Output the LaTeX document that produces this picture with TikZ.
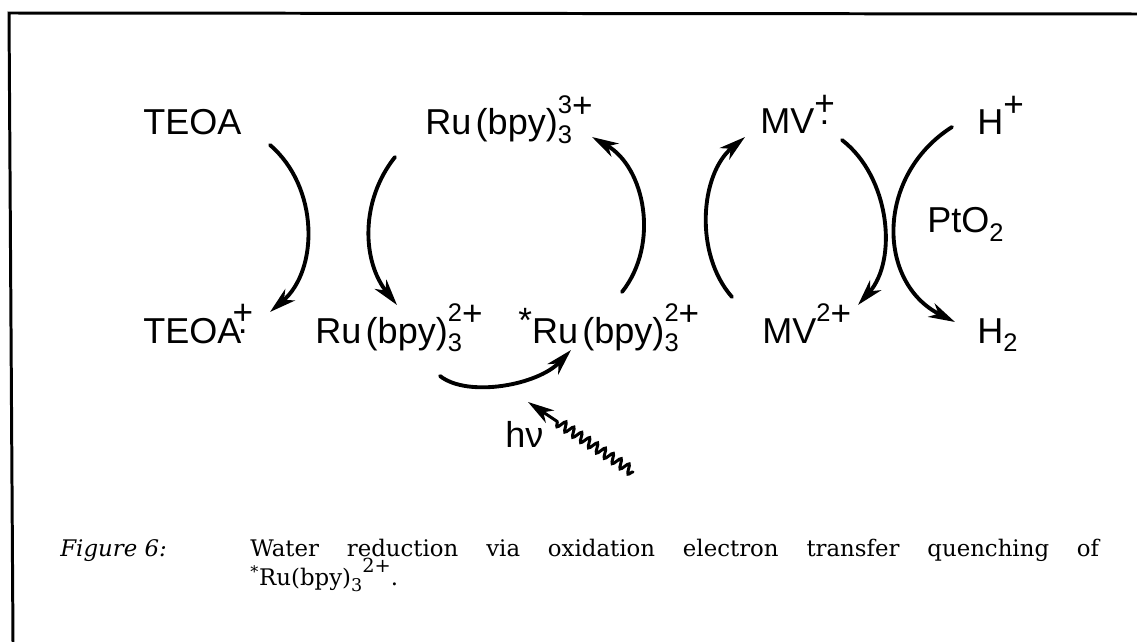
\documentclass[tikz,border=0pt]{standalone}
\usepackage{fontspec}
\setmainfont{DejaVu Serif}
\newfontfamily\etiq{Liberation Sans}
\usetikzlibrary{arrows.meta,decorations.pathmorphing}
\newcommand{\fsup}{\fontsize{14.5}{14.5}\selectfont}
\newcommand{\fmas}{\fontsize{20}{20}\selectfont}
\newcommand{\carga}[2]{\makebox[0pt][l]{\raisebox{-5pt}{\fsup #1}}\raisebox{12pt}{\fsup #2}\raisebox{10.1pt}{\fmas +}}
\newcommand{\radcat}{\makebox[0pt][l]{\hspace{3pt}\raisebox{5.5pt}{\fmas .}}\raisebox{10.5pt}{\fmas +}}
\newcommand{\arriba}[1]{\raisebox{12pt}{\fsup #1}\raisebox{10.1pt}{\fmas +}}
\newcommand{\masarriba}{\raisebox{10.5pt}{\fmas +}}
\newcommand{\abajo}[1]{\raisebox{-5pt}{\fsup #1}}
\newcommand{\estrella}{\raisebox{6pt}{\fmas *}}
\begin{document}
\begin{tikzpicture}[x=0.02cm,y=-0.02cm,line cap=round,
  lbl/.style={font=\etiq\fontsize{20.5}{24}\selectfont,inner sep=0pt,anchor=base west},
  leyenda/.style={font=\fontsize{13}{16}\selectfont,inner sep=0pt,anchor=base west},
  arr/.style={line width=2.2pt,-{Stealth[length=15pt,width=8.5pt,inset=4.5pt]}}]
  \useasboundingbox (0,0) rectangle (1137,642);
  % marco: solo los bordes superior e izquierdo
  \draw[line width=1.7pt] (13,642) -- (9,13) -- (1137,14);
  \node[lbl] (teoa) at (143,135) {TEOA};
  \node[lbl] (ruiii) at (425,135) {Ru\kern2.5pt(bpy)\carga{3}{3}};
  \node[lbl] (mvp) at (760,134) {MV\radcat};
  \node[lbl] (hp) at (977,135) {H\masarriba};
  \node[lbl] (teoap) at (143,343) {TEOA\kern-5pt\radcat};
  \node[lbl] (ruii) at (315,343) {Ru\kern2.5pt(bpy)\carga{3}{2}};
  \node[lbl] (ruex) at (518,343) {\estrella Ru\kern2.5pt(bpy)\carga{3}{2}};
  \node[lbl] (mvii) at (762,343) {MV\arriba{2}};
  \node[lbl] (htwo) at (977,343) {H\abajo{2}};
  \node[lbl] (pto) at (927,233) {PtO\abajo{2}};
  \node[lbl] (hnu) at (505,447) {hν};
  \draw[arr] ([shift={(127,10)}]teoa.base west) .. controls (319,187) and (319,270) .. ([shift={(127,-31)}]teoap.base west);
  \draw[arr] ([shift={(-30,22)}]ruiii.base west) .. controls (360,201) and (362,261) .. ([shift={(82,-38)}]ruii.base west);
  \draw[arr] ([shift={(125,33)}]ruii.base west) .. controls (468,398) and (538,385) .. ([shift={(53,7)}]ruex.base west);
  \draw[arr] ([shift={(104,-51)}]ruex.base west) .. controls (660,244) and (645,167) .. ([shift={(167,2)}]ruiii.base west);
  \draw[arr] ([shift={(-30,-46)}]mvii.base west) .. controls (694,254) and (700,174) .. ([shift={(-15,3)}]mvp.base west);
  \draw[arr] ([shift={(82,6)}]mvp.base west) .. controls (890,177) and (898,260) .. ([shift={(96,-38)}]mvii.base west);
  \draw[arr] ([shift={(-25,-8)}]hp.base west) .. controls (875,176) and (877,283) .. ([shift={(-22,-21)}]htwo.base west);
  % foton: flecha ondulada hacia el estado excitado
  \coordinate (foton) at (633,472);
  \draw[line width=1.7pt,-{Stealth[length=15pt,width=8.5pt,inset=4.5pt]},decorate,
    decoration={snake,amplitude=2.6pt,segment length=5.4pt,post length=18pt}]
    (foton) -- ([shift={(23,-45)}]hnu.base west);
  \node[leyenda] (figlbl) at (60,556) {\textit{Figure 6:}};
  \node[leyenda] (capa) at (250,556) {\makebox[16.98cm][s]{Water reduction via oxidation electron transfer quenching of}};
  \node[leyenda] (capb) at (250,585) {\textsuperscript{*}Ru(bpy)\raisebox{-0.3em}{\fontsize{10}{10}\selectfont 3}\raisebox{0.55em}{\fontsize{11}{11}\selectfont 2+}.};
\end{tikzpicture}
\end{document}
